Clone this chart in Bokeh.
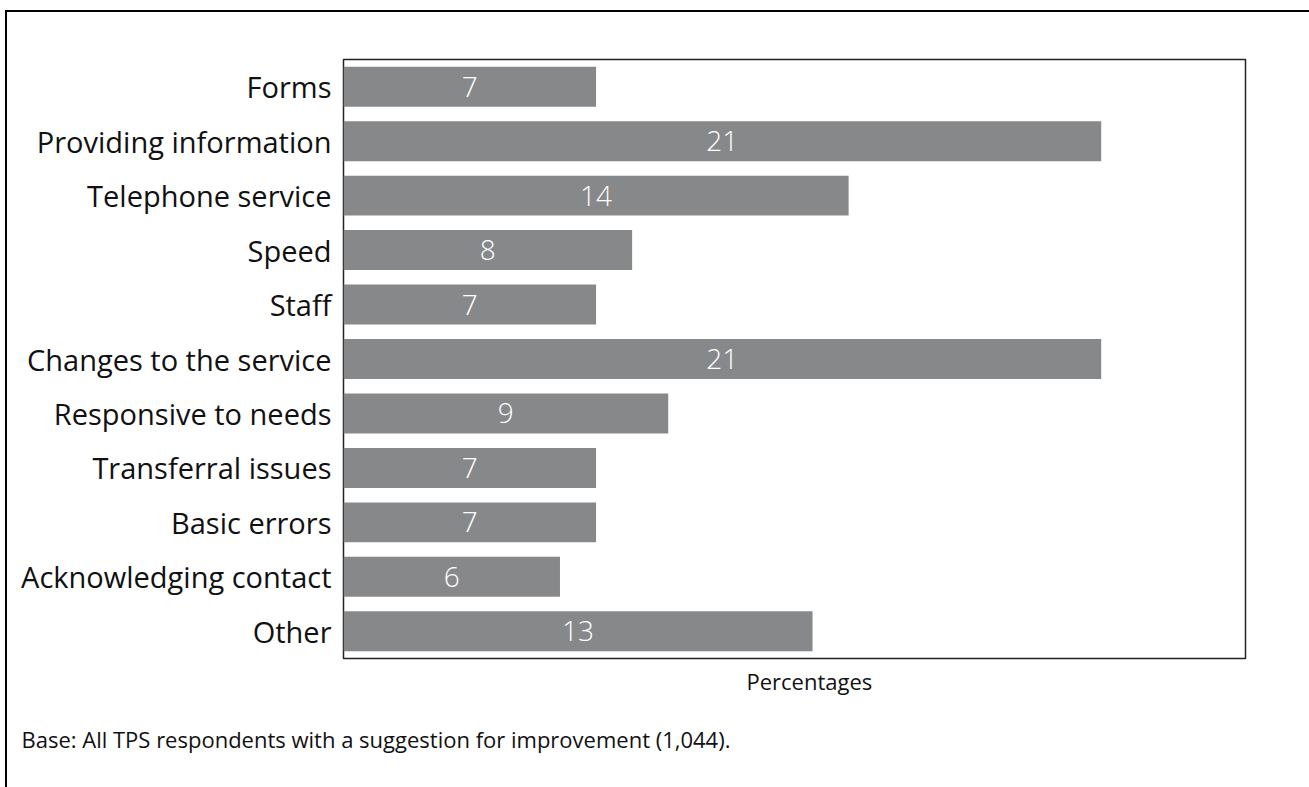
from bokeh.plotting import figure
from bokeh.models import ColumnDataSource, FactorRange, LabelSet, Range1d, Title
from bokeh.core.properties import value
from bokeh.embed import file_html
from bokeh.resources import INLINE

categories = ["Forms", "Providing information", "Telephone service", "Speed", "Staff",
              "Changes to the service", "Responsive to needs", "Transferral issues",
              "Basic errors", "Acknowledging contact", "Other"]
percentages = [7, 21, 14, 8, 7, 21, 9, 7, 7, 6, 13]
x_label = "Percentages"
footnote = "Base: All TPS respondents with a suggestion for improvement (1,044)."

FONT = "Open Sans"
LIGHT = "'Open Sans Light', 'Lato Light', 'Open Sans'"

src = ColumnDataSource(dict(
    cat=categories,
    val=percentages,
    mid=[v / 2 for v in percentages],
    txt=[str(v) for v in percentages],
))

p = figure(
    y_range=FactorRange(factors=list(reversed(categories))),
    x_range=Range1d(0, 25),
    frame_width=902, frame_height=599,
    min_border_left=336, min_border_top=47, min_border_right=64, min_border_bottom=129,
    output_backend="svg", toolbar_location=None,
)
p.styles = {"margin-left": "5px", "margin-top": "10px",
            "border-left": "2px solid black", "border-top": "2px solid black"}

p.hbar(y="cat", right="val", left=0, height=0.734, source=src,
       fill_color="#87888a", line_color=None)

p.add_layout(LabelSet(x="mid", y="cat", text="txt", source=src,
                      text_color="white", text_font=value(LIGHT), text_font_size="28px",
                      text_align="center", text_baseline="middle"))

p.xaxis.visible = False
p.xgrid.visible = False
p.ygrid.visible = False
p.yaxis.axis_line_color = None
p.yaxis.major_tick_line_color = None
p.yaxis.minor_tick_line_color = None
p.yaxis.major_label_text_font = FONT
p.yaxis.major_label_text_font_size = "29px"
p.yaxis.major_label_text_color = "#111111"
p.yaxis.major_label_standoff = 6

p.outline_line_color = "#222222"
p.outline_line_width = 1.5
p.background_fill_color = "white"
p.border_fill_color = "white"

t1 = Title(text=x_label, align="left", offset=403, standoff=10,
           text_font=FONT, text_font_size="22px", text_font_style="normal", text_color="#111111")
p.add_layout(t1, "below")
t2 = Title(text=footnote, align="left", offset=-322, standoff=42,
           text_font=FONT, text_font_size="22px", text_font_style="normal", text_color="#111111")
p.add_layout(t2, "below")

open("out.html", "w").write(file_html(p, INLINE))
